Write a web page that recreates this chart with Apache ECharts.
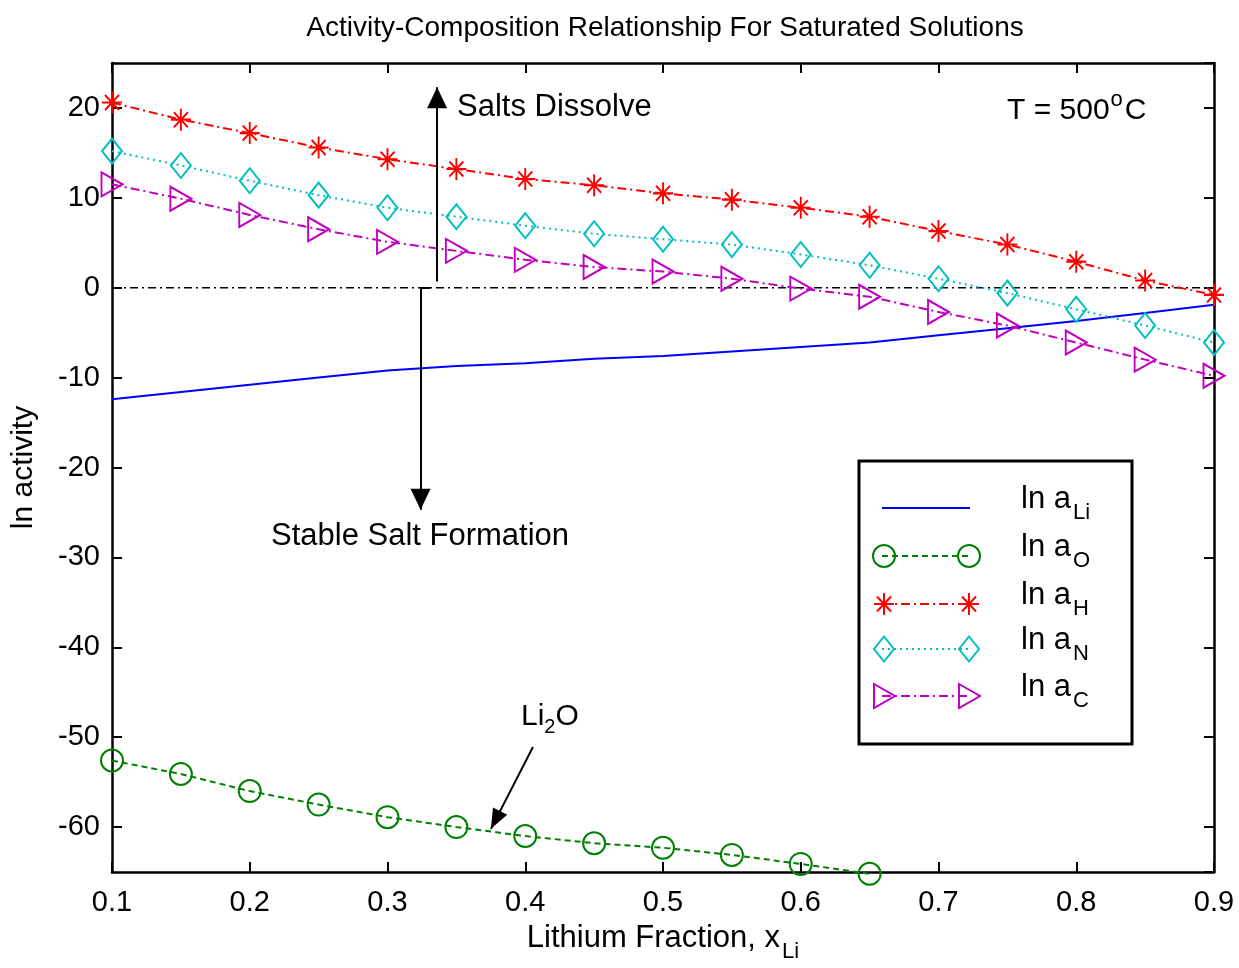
<!DOCTYPE html>
<html><head><meta charset="utf-8">
<script src="https://cdn.jsdelivr.net/npm/echarts@6/dist/echarts.min.js"></script>
<style>html,body{margin:0;padding:0;background:#fff}#c{width:1239px;height:968px}</style>
</head><body><div id="c"></div>
<script>
// ---- data ----
const xFull = [0.1,0.15,0.2,0.25,0.3,0.35,0.4,0.45,0.5,0.55,0.6,0.65,0.7,0.75,0.8,0.85,0.9];
const lnLi  = [-12.4,-11.6,-10.8,-10.0,-9.2,-8.7,-8.4,-7.9,-7.6,-7.1,-6.6,-6.1,-5.3,-4.5,-3.7,-2.8,-1.9];
const xO    = [0.1,0.15,0.2,0.25,0.3,0.35,0.4,0.45,0.5,0.55,0.6,0.65];
const lnO   = [-52.6,-54.1,-56.0,-57.5,-58.9,-60.0,-61.0,-61.8,-62.3,-63.1,-64.1,-65.2];
const lnH   = [20.6,18.7,17.2,15.6,14.3,13.2,12.1,11.4,10.5,9.8,8.9,7.9,6.3,4.8,2.9,0.8,-0.8];
const lnN   = [15.2,13.6,11.9,10.3,8.9,7.9,6.9,6.0,5.4,4.8,3.7,2.5,1.0,-0.6,-2.4,-4.2,-6.1];
const lnC   = [11.5,9.9,8.1,6.5,5.1,4.1,3.1,2.3,1.8,1.0,-0.1,-1.0,-2.7,-4.2,-6.1,-8.0,-9.8];
const zeroLine = [[0.1,0],[0.9,0]];
// annotation arrows [start, tip] in data units
const arrowUp   = [[0.336,0.7],[0.336,22.3]];
const arrowDown = [[0.324,0],[0.324,-24.7]];
const arrowNub  = [[0.324,0],[0.331,0]];
const arrowLi2O = [[0.4056,-51.1],[0.3751,-60.2]];
const xRange = [0.1,0.9];
const yRange = [-65,25];

const FONT = '"Liberation Sans", Arial, sans-serif';
const pair = (xs, ys) => xs.map((x,i)=>[x, ys[i]]);
const BLUE='#0000ff', GREEN='#008000', RED='#ff0000', CYAN='#00bfbf', MAG='#bf00bf';
const DASHDOT=[9,4,2,4], DASH=[6,4], DOT=[2,4];
const STAR='path://M10,0L10,22M0,11L20,11M3,3.5L17,18.5M3,18.5L17,3.5';
const TRI='path://M0,0L21,12L0,24Z';
const hollow = c => ({color:'rgba(0,0,0,0)', borderColor:c, borderWidth:2});

const chart = echarts.init(document.getElementById('c'), null, {renderer:'canvas'});

const axisCommon = {
  type:'value', splitLine:{show:false},
  axisLine:{show:true, onZero:false, lineStyle:{color:'#000', width:2.5}},
  axisTick:{show:true, inside:true, length:10, lineStyle:{color:'#000', width:2}},
};

const legRows = [
  {sub:'Li', y:508, color:BLUE, dash:null, sym:'none'},
  {sub:'O',  y:556, color:GREEN, dash:DASH, sym:'circle'},
  {sub:'H',  y:604, color:RED, dash:DASHDOT, sym:'star'},
  {sub:'N',  y:649, color:CYAN, dash:DOT, sym:'diamond'},
  {sub:'C',  y:696, color:MAG, dash:DASHDOT, sym:'tri'},
];
function legendSymbol(sym, cx, cy, color){
  const st = {stroke:color, lineWidth:2, fill:'none'};
  if(sym==='circle') return [{type:'circle', shape:{cx, cy, r:11}, style:st}];
  if(sym==='diamond') return [{type:'polygon', shape:{points:[[cx,cy-12.5],[cx+10,cy],[cx,cy+12.5],[cx-10,cy]]}, style:st}];
  if(sym==='tri') return [{type:'polygon', shape:{points:[[cx-10,cy-12],[cx+11,cy],[cx-10,cy+12]]}, style:st}];
  if(sym==='star') return [
    {type:'line', shape:{x1:cx, y1:cy-11, x2:cx, y2:cy+11}, style:st},
    {type:'line', shape:{x1:cx-10, y1:cy, x2:cx+10, y2:cy}, style:st},
    {type:'line', shape:{x1:cx-7, y1:cy-7.5, x2:cx+7, y2:cy+7.5}, style:st},
    {type:'line', shape:{x1:cx-7, y1:cy+7.5, x2:cx+7, y2:cy-7.5}, style:st},
  ];
  return [];
}
const legendEls = [{type:'rect', shape:{x:859, y:461, width:273, height:283}, style:{fill:'#fff', stroke:'#000', lineWidth:3}, z:100}];
const subRich = {
  m:{fontSize:31, lineHeight:32, verticalAlign:'top', fontFamily:FONT, color:'#000'},
  s:{fontSize:22, lineHeight:22, padding:[18,0,0,2], verticalAlign:'top', fontFamily:FONT, color:'#000'}
};
legRows.forEach(r=>{
  legendEls.push({type:'line', shape:{x1:882, y1:r.y, x2:970, y2:r.y}, style:{stroke:r.color, lineWidth:2, lineDash:r.dash||null}, z:101});
  legendSymbol(r.sym, 884, r.y, r.color).forEach(e=>{e.z=102; legendEls.push(e);});
  legendSymbol(r.sym, 969, r.y, r.color).forEach(e=>{e.z=102; legendEls.push(e);});
  legendEls.push({type:'text', x:1021, y:r.y-24, z:102, style:{text:'{m|ln a}{s|'+r.sub+'}', rich:subRich}});
});

const annot = [
  {type:'text', x:457, y:92, style:{text:'Salts Dissolve', font:'31px '+FONT, fill:'#000'}},
  {type:'text', x:271, y:521, style:{text:'Stable Salt Formation', font:'31px '+FONT, fill:'#000'}},
  {type:'text', x:1007, y:89, style:{text:'{m|T = 500}{p|o}{m|C}', rich:{
      m:{fontSize:30, lineHeight:32, padding:[7,0,0,0], verticalAlign:'top', fontFamily:FONT, color:'#000'},
      p:{fontSize:22, lineHeight:22, padding:[0,2,0,1], verticalAlign:'top', fontFamily:FONT, color:'#000'}}}},
  {type:'text', x:521, y:702, style:{text:'{m|Li}{s|2}{m|O}', rich:{
      m:{fontSize:30, lineHeight:32, verticalAlign:'top', fontFamily:FONT, color:'#000'},
      s:{fontSize:20, lineHeight:20, padding:[15,0,0,0], verticalAlign:'top', fontFamily:FONT, color:'#000'}}}},
];

const option = {
  backgroundColor:'#fff',
  animation:false,
  title:{text:'Activity-Composition Relationship For Saturated Solutions', left:660, top:9, textAlign:'center',
    textStyle:{fontSize:28, fontWeight:'normal', color:'#000', fontFamily:FONT}},
  grid:{left:112, right:25, top:63, bottom:93, containLabel:false},
  xAxis:[
    Object.assign({}, axisCommon, {min:xRange[0], max:xRange[1], interval:0.1, position:'bottom',
      axisLabel:{fontSize:29, color:'#000', fontFamily:FONT, margin:16, formatter:v=>v.toFixed(1)},
      name:'{m|Lithium Fraction, x}{s|Li}', nameLocation:'middle', nameGap:51,
      nameTextStyle:{rich:{
        m:{fontSize:31, lineHeight:32, verticalAlign:'top', fontFamily:FONT, color:'#000'},
        s:{fontSize:22, lineHeight:22, padding:[18,0,0,2], verticalAlign:'top', fontFamily:FONT, color:'#000'}}}}),
    Object.assign({}, axisCommon, {min:xRange[0], max:xRange[1], interval:0.1, position:'top', axisLabel:{show:false}})
  ],
  yAxis:[
    Object.assign({}, axisCommon, {min:yRange[0], max:yRange[1], splitNumber:9, position:'left',
      axisLabel:{fontSize:29, color:'#000', fontFamily:FONT, margin:12, showMinLabel:false, showMaxLabel:false,
        formatter:v=> (Math.round(v)%10===0 ? String(Math.round(v)) : '')},
      name:'ln activity', nameLocation:'middle', nameGap:73, nameRotate:90,
      nameTextStyle:{fontSize:30, color:'#000', fontFamily:FONT}}),
    Object.assign({}, axisCommon, {min:yRange[0], max:yRange[1], splitNumber:9, position:'right', axisLabel:{show:false}})
  ],
  series:[
    {name:'zero', type:'line', data:zeroLine, symbol:'none', silent:true, z:1,
      lineStyle:{color:'#000', width:1.5, type:[8,4,2,4]},
      markLine:{silent:true, animation:false, symbol:'none', label:{show:false},
        lineStyle:{color:'#000', width:2, type:'solid'}, emphasis:{disabled:true},
        data:[
          [{coord:arrowUp[0]},{coord:arrowUp[1]}],
          [{coord:arrowDown[0]},{coord:arrowDown[1]}],
          [{coord:arrowLi2O[0]},{coord:arrowLi2O[1]}],
          [{coord:arrowNub[0]},{coord:arrowNub[1]}]
        ]}},
    {name:'ln a_Li', type:'line', data:pair(xFull,lnLi), symbol:'none', z:3,
      lineStyle:{color:BLUE, width:2}, itemStyle:{color:BLUE}},
    {name:'ln a_O', type:'line', data:pair(xO,lnO), clip:false, symbol:'circle', symbolSize:22, z:3,
      lineStyle:{color:GREEN, width:2, type:DASH}, itemStyle:hollow(GREEN)},
    {name:'ln a_H', type:'line', data:pair(xFull,lnH), clip:false, symbol:STAR, symbolSize:[20,22], z:3,
      lineStyle:{color:RED, width:2, type:DASHDOT}, itemStyle:hollow(RED)},
    {name:'ln a_N', type:'line', data:pair(xFull,lnN), clip:false, symbol:'diamond', symbolSize:[20,25], z:3,
      lineStyle:{color:CYAN, width:2, type:DOT}, itemStyle:hollow(CYAN)},
    {name:'ln a_C', type:'line', data:pair(xFull,lnC), clip:false, symbol:TRI, symbolSize:[21,24], z:3,
      lineStyle:{color:MAG, width:2, type:DASHDOT}, itemStyle:hollow(MAG)},
  ],
  graphic: annot.concat(legendEls)
};
chart.setOption(option);

// arrowheads placed through the chart's own coordinate conversion
function head(arrow, len, hw){
  const a = chart.convertToPixel({gridIndex:0}, arrow[0]);
  const b = chart.convertToPixel({gridIndex:0}, arrow[1]);
  const dx=b[0]-a[0], dy=b[1]-a[1], L=Math.hypot(dx,dy), ux=dx/L, uy=dy/L;
  const bx=b[0]-ux*len, by=b[1]-uy*len;
  return {type:'polygon', z:50, shape:{points:[[b[0],b[1]],[bx-uy*hw,by+ux*hw],[bx+uy*hw,by-ux*hw]]}, style:{fill:'#000'}};
}
const heads = [head(arrowUp,21,10), head(arrowDown,21,10), head(arrowLi2O,20,8)];
chart.setOption({graphic: annot.concat(legendEls).concat(heads)});
</script></body></html>
